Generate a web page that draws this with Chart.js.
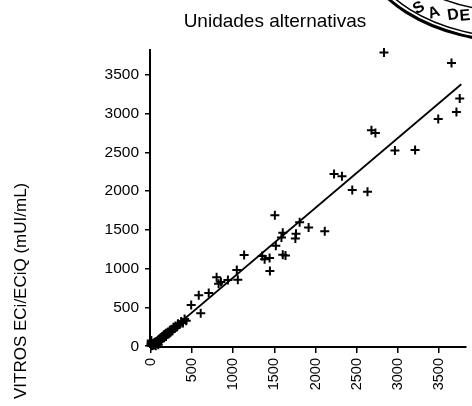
<!DOCTYPE html>
<html>
<head>
<meta charset="utf-8">
<script src="https://cdn.jsdelivr.net/npm/chart.js@4.4.1/dist/chart.umd.min.js"></script>
<style>
  html, body { margin: 0; padding: 0; background: #fff; }
  #wrap { width: 472px; height: 406px; position: relative; }
</style>
</head>
<body>
<div id="wrap"><canvas id="c" width="472" height="406"></canvas></div>
<script>
// ---- Data ----
const titleText = "Unidades alternativas";
const yAxisTitle = "VITROS ECi/ECiQ (mUI/mL)";
const xTickValues = [0, 500, 1000, 1500, 2000, 2500, 3000, 3500];
const yTickValues = [0, 500, 1000, 1500, 2000, 2500, 3000, 3500];

// comparison method (x) values
const pointsX = [2831, 3651, 3751, 3711, 3490, 2679, 2727, 2964, 3209, 2225, 2321, 2446, 2631,
  1506, 1807, 1916, 2112, 1602, 1763, 1755, 1586, 1518, 1133, 1353, 1382, 1442, 1602, 1635,
  1446, 1044, 1056, 936, 799, 823, 851, 703, 582, 490, 606,
  5, 10, 12, 15, 18, 20, 22, 25, 28, 30, 32, 35, 38, 40, 42, 45, 48, 50, 55, 58, 60, 65, 68, 70,
  75, 80, 85, 88, 90, 95, 100, 105, 110, 115, 120, 125, 130, 135, 140, 150, 155, 160, 165, 170,
  180, 185, 190, 200, 210, 220, 230, 240, 250, 260, 275, 290, 300, 320, 330, 350, 370, 390, 410, 430,
  2, 4, 6, 60, 90];
// VITROS ECi/ECiQ (y) values
const pointsY = [3788, 3651, 3196, 3020, 2930, 2784, 2750, 2523, 2531, 2222, 2192, 2016, 1991,
  1690, 1600, 1532, 1484, 1463, 1450, 1390, 1403, 1296, 1175, 1162, 1120, 1137, 1180, 1171,
  969, 982, 858, 854, 888, 807, 828, 686, 656, 532, 425,
  8, 6, 15, 10, 20, 12, 25, 18, 30, 22, 15, 35, 28, 40, 20, 38, 45, 30, 50, 42, 55, 48, 60, 35,
  65, 58, 75, 50, 80, 70, 90, 62, 98, 85, 105, 78, 115, 100, 125, 118, 140, 110, 150, 130,
  160, 125, 170, 150, 185, 160, 205, 180, 220, 195, 245, 230, 260, 250, 290, 280, 320, 300, 350, 330,
  30, 55, 75, 5, 20];

// regression line end points
const fitX = [10, 3770];
const fitY = [-6, 3378];

// stamp letters (partial stamp in the corner of the scan)
const stampLetters = ["S", "A", "D", "E"];

// ---- Build chart ----
const scatterData = pointsX.map((x, i) => ({ x: x, y: pointsY[i] }));
const fitData = fitX.map((x, i) => ({ x: x, y: fitY[i] }));

const FONT = "'Liberation Sans', Arial, Helvetica, sans-serif";

const decorPlugin = {
  id: 'decor',
  afterDraw(chart) {
    const ctx = chart.ctx;
    ctx.save();
    // title
    ctx.fillStyle = '#000';
    ctx.font = "19px " + FONT;
    ctx.textAlign = 'center';
    ctx.textBaseline = 'alphabetic';
    ctx.fillText(titleText, 275, 27);
    // y axis title
    ctx.save();
    ctx.translate(21, 399);
    ctx.rotate(-Math.PI / 2);
    ctx.font = "17px " + FONT;
    ctx.textAlign = 'left';
    ctx.textBaseline = 'middle';
    ctx.fillText(yAxisTitle, 0, 0);
    ctx.restore();
    // stamp
    ctx.strokeStyle = '#000';
    ctx.lineWidth = 3;
    ctx.beginPath(); ctx.ellipse(520, -60, 161, 102, 0, 0, Math.PI * 2); ctx.stroke();
    ctx.lineWidth = 1.5;
    ctx.beginPath(); ctx.ellipse(520, -60, 156, 98, 0, 0, Math.PI * 2); ctx.stroke();
    ctx.beginPath(); ctx.ellipse(520, -60, 135, 72, 0, 0, Math.PI * 2); ctx.stroke();
    const pos = [[419, 8, 30], [434, 13, 20], [453, 15, 8], [465, 16, 5]];
    ctx.font = "bold 16px " + FONT;
    ctx.textAlign = 'center';
    ctx.textBaseline = 'middle';
    stampLetters.forEach((ch, i) => {
      ctx.save();
      ctx.translate(pos[i][0], pos[i][1]);
      ctx.rotate(-pos[i][2] * Math.PI / 180);
      ctx.fillText(ch, 0, 0);
      ctx.restore();
    });
    ctx.restore();
  }
};

new Chart(document.getElementById('c'), {
  type: 'scatter',
  data: {
    datasets: [
      {
        label: 'muestras',
        data: scatterData,
        pointStyle: 'cross',
        pointRadius: 4.5,
        pointBorderWidth: 2,
        borderColor: '#000',
        backgroundColor: '#000',
        showLine: false,
        clip: 8
      },
      {
        label: 'ajuste',
        type: 'line',
        data: fitData,
        borderColor: '#000',
        borderWidth: 1.8,
        pointRadius: 0,
        showLine: true,
        fill: false
      }
    ]
  },
  options: {
    responsive: false,
    animation: false,
    devicePixelRatio: 1,
    layout: { padding: { top: 50, left: 0, right: 0, bottom: 0 } },
    plugins: {
      legend: { display: false },
      title: { display: false },
      tooltip: { enabled: false }
    },
    scales: {
      x: {
        type: 'linear',
        min: -10,
        max: 3821,
        afterBuildTicks: s => { s.ticks = xTickValues.map(v => ({ value: v })); },
        afterFit: s => { s.height = 59; s.paddingLeft = 0; s.paddingRight = 0; },
        ticks: { maxRotation: 90, minRotation: 90, autoSkip: false, padding: 5, color: '#000',
                 font: { family: FONT, size: 14.5 }, callback: v => String(v) },
        grid: { display: true, drawOnChartArea: false, drawTicks: true, tickLength: 6, color: '#000', lineWidth: 1.5 },
        border: { display: true, color: '#000', width: 2 }
      },
      y: {
        type: 'linear',
        min: -10,
        max: 3820,
        afterBuildTicks: s => { s.ticks = yTickValues.map(v => ({ value: v })); },
        afterFit: s => { s.width = 150; s.paddingTop = 0; s.paddingBottom = 0; },
        ticks: { padding: 6, color: '#000', font: { family: FONT, size: 15.5 }, callback: v => String(v) },
        grid: { display: true, drawOnChartArea: false, drawTicks: true, tickLength: 5, color: '#000', lineWidth: 1.5 },
        border: { display: true, color: '#000', width: 2 }
      }
    }
  },
  plugins: [decorPlugin]
});
</script>
</body>
</html>
